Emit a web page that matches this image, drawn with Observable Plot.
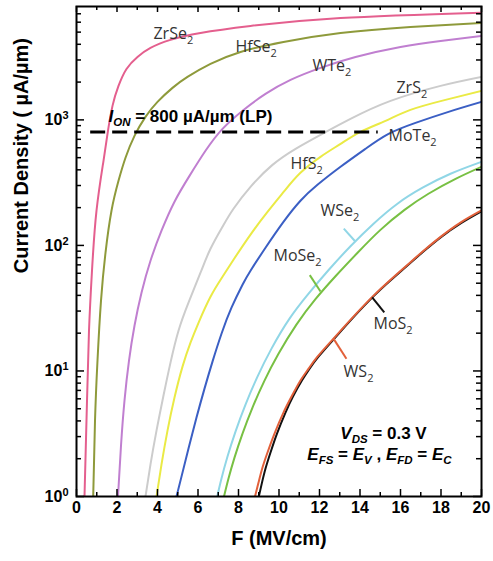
<!DOCTYPE html>
<html><head><meta charset="utf-8">
<script src="https://cdn.jsdelivr.net/npm/d3@7"></script>
<script src="https://cdn.jsdelivr.net/npm/@observablehq/plot@0.6"></script>
<style>body{margin:0;background:#fff}</style>
</head><body><div id="chart"></div>
<script>
// ---- data ----
const materials = ["ZrSe2","HfSe2","WTe2","ZrS2","HfS2","MoTe2","WSe2","MoSe2","MoS2","WS2"];
const lineColors = ["#e45f8e","#8e9a3b","#c07fd0","#cccccc","#eaea45","#3b5fc4","#90d6e6","#78c043","#111111","#e2603a"];

const F_ZrSe2 = [0.395, 0.519, 0.617, 0.765, 0.988, 1.333, 1.531, 1.778, 2.074, 2.469, 3.012, 3.654, 4.642, 6.123, 8.593, 13.04, 20];
const J_ZrSe2 = [1, 5.81, 20.9, 62.9, 189, 472, 774, 1292, 1864, 2545, 3170, 3740, 4335, 4920, 5595, 6480, 7150];
const F_HfSe2 = [0.825, 0.914, 1.037, 1.21, 1.432, 1.728, 2.074, 2.42, 2.864, 3.407, 4.0, 4.741, 5.481, 6.617, 8.099, 10.22, 13.04, 16.49, 20];
const J_HfSe2 = [1, 4.03, 12.1, 36.3, 87.4, 189, 327, 499, 746, 1057, 1390, 1798, 2198, 2790, 3475, 4175, 4920, 5495, 5915];
const F_WTe2 = [2.049, 2.198, 2.37, 2.593, 2.864, 3.21, 3.654, 4.198, 4.84, 5.58, 6.37, 7.21, 8.247, 9.333, 10.57, 12.05, 13.78, 16.0, 17.98, 20];
const J_WTe2 = [1, 2.55, 5.81, 12.1, 22.9, 42.0, 75.5, 131, 223, 358, 567, 848, 1200, 1610, 2081, 2594, 3171, 3808, 4253, 4660];
const F_ZrS2 = [3.407, 3.654, 3.951, 4.296, 4.642, 5.037, 5.531, 6.123, 6.617, 7.21, 7.753, 8.593, 9.679, 10.82, 12.05, 13.53, 15.51, 17.98, 20];
const J_ZrS2 = [1, 1.80, 3.35, 6.37, 11.65, 20.9, 35.0, 60.6, 94.1, 141, 196, 293, 438, 588, 760, 1018, 1416, 1865, 2199];
const F_HfS2 = [3.951, 4.198, 4.494, 4.84, 5.235, 5.63, 6.025, 6.617, 7.21, 7.753, 8.593, 9.432, 10.27, 11.06, 12.05, 13.04, 14.03, 15.26, 16.49, 18.22, 20];
const J_HfS2 = [1, 1.80, 3.35, 6.14, 10.83, 16.8, 24.2, 39.0, 56.3, 76.9, 122, 185, 272, 379, 508, 644, 803, 982, 1201, 1443, 1701];
const F_MoTe2 = [4.938, 5.185, 5.531, 5.926, 6.321, 6.716, 7.16, 7.654, 8.198, 8.593, 9.333, 10.22, 11.06, 11.9, 13.04, 14.27, 15.41, 16.74, 18.37, 20];
const J_MoTe2 = [1, 1.44, 2.41, 4.25, 7.23, 11.87, 19.8, 31.9, 48.6, 62.9, 95.8, 154, 227, 304, 423, 588, 773, 946, 1158, 1390];
const F_WSe2 = [6.948, 7.16, 7.457, 7.852, 8.346, 8.938, 9.63, 10.52, 11.46, 12.44, 13.53, 14.67, 15.85, 17.09, 18.47, 20];
const J_WSe2 = [1, 1.39, 2.08, 3.29, 5.40, 9.01, 15.06, 26.1, 41.3, 63.4, 98.5, 149, 215, 288, 372, 463];
const F_MoSe2 = [7.284, 7.506, 7.802, 8.198, 8.691, 9.284, 9.975, 10.86, 11.8, 12.79, 13.88, 15.01, 16.2, 17.38, 18.72, 20];
const J_MoSe2 = [1, 1.39, 2.04, 3.17, 5.11, 8.38, 13.7, 23.4, 37.3, 56.8, 87.4, 133, 192, 258, 339, 423];
const F_MoS2 = [9.003, 9.16, 9.348, 9.58, 9.901, 10.32, 10.69, 11.13, 11.51, 11.95, 12.73, 13.66, 14.7, 15.53, 16.37, 17.16, 18.0, 18.99, 20];
const J_MoS2 = [1, 1.29, 1.70, 2.24, 3.17, 4.66, 6.25, 8.38, 10.43, 13.0, 18.1, 26.6, 39.8, 53.0, 69.8, 90.2, 116.5, 150.5, 187];
const F_WS2 = [8.815, 8.988, 9.185, 9.432, 9.778, 10.22, 10.62, 11.06, 11.46, 11.9, 12.69, 13.63, 14.67, 15.51, 16.35, 17.14, 17.98, 18.96, 20];
const J_WS2 = [1, 1.29, 1.70, 2.24, 3.17, 4.66, 6.25, 8.38, 10.43, 13.0, 18.1, 26.6, 39.8, 53.3, 70.2, 90.7, 117, 152, 190];

const curveF = [F_ZrSe2, F_HfSe2, F_WTe2, F_ZrS2, F_HfS2, F_MoTe2, F_WSe2, F_MoSe2, F_MoS2, F_WS2];
const curveJ = [J_ZrSe2, J_HfSe2, J_WTe2, J_ZrS2, J_HfS2, J_MoTe2, J_WSe2, J_MoSe2, J_MoS2, J_WS2];

// curve labels (anchor = left end of text, in data units)
const labelF = [3.80, 7.85, 11.65, 15.8, 10.57, 15.41, 12.05, 9.73, 14.67, 13.19];
const labelJ = [4880, 3810, 2690, 1800, 443, 739, 187, 82, 23.8, 9.9];

// short leader lines from labels to curves
const leaderMat = ["WSe2", "MoSe2", "MoS2", "WS2"];
const leaderF1 = [13.2, 11.52, 14.6, 12.69];
const leaderJ1 = [136, 58, 38.5, 18.1];
const leaderF2 = [13.78, 12.05, 15.2, 13.33];
const leaderJ2 = [107, 43, 29.3, 12.5];

// annotations
const ionLevel = 800;
const ionSpan = [0.7, 14.9];
const ionText = "ION = 800 µA/µm (LP)";
const ionAtF = 1.58, ionAtJ = 1057;
const biasText = ["VDS = 0.3 V", "EFS = EV , EFD = EC"];
const biasF = [15.16, 14.96];
const biasJ = [3.2, 2.14];

// axis ticks
const xMajor = [0, 2, 4, 6, 8, 10, 12, 14, 16, 18, 20];
const xMinor = [1, 3, 5, 7, 9, 11, 13, 15, 17, 19];
const yMajor = [1, 10, 100, 1000];
const yMinor = [2,3,4,5,6,7,8,9,20,30,40,50,60,70,80,90,200,300,400,500,600,700,800,900,2000,3000,4000,5000,6000,7000];
const xTitle = "F (MV/cm)";
const yTitle = "Current Density ( µA/µm)";
const yTitleAtJ = 60;

// ---- build ----
const rows = materials.flatMap((m, i) => curveF[i].map((f, k) => ({m, F: f, J: curveJ[i][k]})));
const labels = materials.map((m, i) => ({m, F: labelF[i], J: labelJ[i]}));
const leaders = leaderMat.map((m, i) => ({m, x1: leaderF1[i], y1: leaderJ1[i], x2: leaderF2[i], y2: leaderJ2[i]}));
const bias = biasText.map((t, i) => ({t, F: biasF[i], J: biasJ[i]}));

const W = 493, H = 561, mL = 76, mR = 12, mT = 6, mB = 65;
const fw = W - mL - mR, fh = H - mT - mB;
const bold = {fontWeight: "bold", fontFamily: "Liberation Sans, Arial, sans-serif", fill: "black"};

const chart = Plot.plot({
  width: W, height: H,
  marginLeft: mL, marginRight: mR, marginTop: mT, marginBottom: mB,
  x: {domain: [0, 20], axis: null},
  y: {type: "log", domain: [1, 8000], axis: null},
  color: {domain: materials, range: lineColors},
  style: {fontFamily: "Liberation Sans, Arial, sans-serif", background: "white", overflow: "visible"},
  marks: [
    Plot.line(rows, {x: "F", y: "J", z: "m", stroke: "m", strokeWidth: 2, curve: "natural", clip: true}),
    Plot.link(leaders, {x1: "x1", y1: "y1", x2: "x2", y2: "y2", stroke: "m", strokeWidth: 2}),
    Plot.ruleY([ionLevel], {x1: ionSpan[0], x2: ionSpan[1], stroke: "black", strokeWidth: 3, strokeDasharray: "15,7"}),
    Plot.text(labels, {x: "F", y: "J", text: "m", textAnchor: "start", fontSize: 16, fontFamily: "Open Sans, sans-serif", fill: "#333"}),
    Plot.text([ionText], {x: () => ionAtF, y: () => ionAtJ, text: d => d, textAnchor: "start", fontSize: 17, ...bold}),
    Plot.text(bias, {x: "F", y: "J", text: "t", textAnchor: "middle", fontSize: 17, ...bold}),
    // ticks (inward)
    Plot.tickY(yMajor, {y: d => d, insetRight: fw - 8, stroke: "black", strokeWidth: 1.5}),
    Plot.tickY(yMinor, {y: d => d, insetRight: fw - 5, stroke: "black", strokeWidth: 1.5}),
    Plot.tickY(yMajor, {y: d => d, insetLeft: fw - 8, stroke: "black", strokeWidth: 1.5}),
    Plot.tickY(yMinor, {y: d => d, insetLeft: fw - 5, stroke: "black", strokeWidth: 1.5}),
    Plot.tickX(xMajor, {x: d => d, insetTop: fh - 7, stroke: "black", strokeWidth: 1.5}),
    Plot.tickX(xMinor, {x: d => d, insetTop: fh - 4, stroke: "black", strokeWidth: 1.5}),
    Plot.tickX(xMajor, {x: d => d, insetBottom: fh - 6, stroke: "black", strokeWidth: 1.5}),
    Plot.tickX(xMinor, {x: d => d, insetBottom: fh - 4, stroke: "black", strokeWidth: 1.5}),
    // tick labels
    Plot.text(yMajor, {y: d => d, frameAnchor: "left", dx: -8, textAnchor: "end", text: d => "10^" + Math.round(Math.log10(d)), fontSize: 16, ...bold}),
    Plot.text(xMajor, {x: d => d, frameAnchor: "bottom", dy: 16, text: d => String(d), fontSize: 16, ...bold}),
    // axis titles
    Plot.text([xTitle], {frameAnchor: "bottom", dy: 48, text: d => d, fontSize: 20, ...bold}),
    Plot.text([yTitle], {y: () => yTitleAtJ, frameAnchor: "left", dx: -55, rotate: -90, text: d => d, fontSize: 20, ...bold}),
    Plot.frame({stroke: "black", strokeWidth: 2})
  ]
});

// ---- rich text: sub/superscripts and italics ----
const NS = "http://www.w3.org/2000/svg";
function rich(el, parts, small, subDy, supDy) {
  el.textContent = "";
  let shift = 0;
  for (const [t, st] of parts) {
    const ts = document.createElementNS(NS, "tspan");
    ts.textContent = t;
    const sub = st.includes("s"), sup = st.includes("^");
    const target = sub ? subDy : sup ? -supDy : 0;
    if (target !== shift) { ts.setAttribute("dy", target - shift); shift = target; }
    if (st.includes("i")) ts.setAttribute("font-style", "italic");
    if (sub || sup) ts.setAttribute("font-size", small);
    el.appendChild(ts);
  }
}
const special = {
  "ION = 800 µA/µm (LP)": [["I","i"],["ON","is"],[" = 800 µA/µm (LP)",""]],
  "VDS = 0.3 V": [["V","i"],["DS","is"],[" = 0.3 V",""]],
  "EFS = EV , EFD = EC": [["E","i"],["FS","is"],[" = ",""],["E","i"],["V","is"],[" , ",""],["E","i"],["FD","is"],[" = ",""],["E","i"],["C","is"]]
};
chart.querySelectorAll("text").forEach(el => {
  const s = el.textContent;
  let m;
  if ((m = s.match(/^10\^(\d)$/))) rich(el, [["10",""],[m[1],"^"]], 11, 0, 6);
  else if (materials.includes(s)) { m = s.match(/^(.*?)(\d+)$/); rich(el, [[m[1],""],[m[2],"s"]], 11, 5, 0); }
  else if (special[s]) rich(el, special[s], 11.5, 4, 0);
});
document.getElementById("chart").appendChild(chart);
</script>
</body></html>
